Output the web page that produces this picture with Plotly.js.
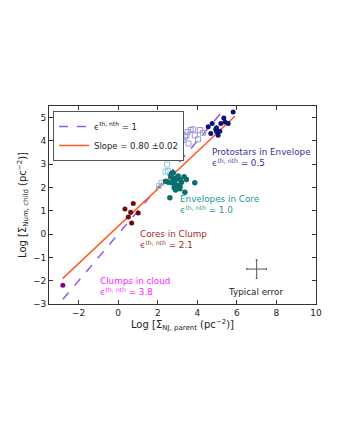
<!DOCTYPE html>
<html>
<head>
<meta charset="utf-8">
<script src="https://cdn.plot.ly/plotly-3.0.1.min.js"></script>
<style>
  html, body { margin: 0; padding: 0; background: #fff; }
  #chart { width: 340px; height: 440px; }
</style>
</head>
<body>
<div id="chart"></div>
<script>
// Protostars in Envelope (filled navy)
const protoX = [5.81, 5.34, 5.19, 5.40, 5.56, 4.75, 4.55, 4.68, 4.93, 4.97, 5.14, 5.05, 4.97];
const protoY = [5.24, 4.98, 4.75, 4.81, 4.75, 4.75, 4.61, 4.32, 4.50, 4.40, 4.42, 4.24, 4.57];

// open squares, upper group (lavender)
const sqUpX = [3.25, 3.38, 3.50, 3.66, 3.79, 3.55, 4.04, 4.13, 4.29, 3.87, 3.45];
const sqUpY = [4.04, 4.18, 4.38, 4.47, 4.50, 3.89, 4.07, 4.47, 4.35, 4.24, 4.24];

// open squares, middle group (light teal)
const sqMidX = [2.70, 2.47, 2.39, 2.52, 2.19, 2.06];
const sqMidY = [3.67, 2.99, 2.68, 2.71, 2.20, 2.06];

// Envelopes in Core (filled teal)
const envX = [2.66, 2.78, 2.86, 2.95, 3.03, 3.12, 3.20, 2.86, 2.70, 2.95, 3.33, 3.45, 3.87, 2.61,
              2.90, 3.03, 2.53, 2.39, 2.78, 2.70, 3.12, 2.83, 3.37, 3.12];
const envY = [2.46, 2.38, 2.27, 2.42, 2.49, 2.35, 2.23, 2.13, 2.20, 2.03, 2.46, 2.35, 2.20, 1.56,
              1.89, 2.09, 2.23, 2.27, 2.63, 2.60, 2.06, 1.99, 1.80, 1.95];

// Cores in Clump (filled dark red)
const coreX = [0.34, 0.76, 0.63, 1.01, 0.51, 0.68];
const coreY = [1.08, 1.31, 0.94, 0.91, 0.74, 0.48];

// Clumps in cloud
const clumpX = [-2.8];
const clumpY = [-2.2];

// reference lines (end points)
const unityX = [-2.8, 5.45];
const unityY = [-2.8, 5.45];
const fitX = [-2.8, 5.9];
const fitY = [-1.9, 5.06];

// typical error bar
const errX = [7.0];
const errY = [-1.5];
const errDx = [0.5];
const errDy = [0.4];

const font = 'DejaVu Sans, sans-serif';

const traces = [
  { x: unityX, y: unityY, mode: 'lines', type: 'scatter', name: 'ϵ<sup>th, nth</sup> = 1',
    line: { color: '#9955ee', width: 1.5, dash: 'dash' } },
  { x: fitX, y: fitY, mode: 'lines', type: 'scatter', name: 'Slope = 0.80 ±0.02',
    line: { color: '#ff5a1f', width: 1.5 } },
  { x: sqUpX, y: sqUpY, mode: 'markers', type: 'scatter', showlegend: false,
    marker: { symbol: 'square-open', size: 5, color: '#9a9ad8', line: { width: 1 } } },
  { x: sqMidX, y: sqMidY, mode: 'markers', type: 'scatter', showlegend: false,
    marker: { symbol: 'square-open', size: 5, color: '#8fcfd0', line: { width: 1 } } },
  { x: protoX, y: protoY, mode: 'markers', type: 'scatter', showlegend: false,
    marker: { size: 5, color: '#10107a' } },
  { x: envX, y: envY, mode: 'markers', type: 'scatter', showlegend: false,
    marker: { size: 5.5, color: '#0a6e6e' } },
  { x: coreX, y: coreY, mode: 'markers', type: 'scatter', showlegend: false,
    marker: { size: 5, color: '#6e0a0a' } },
  { x: clumpX, y: clumpY, mode: 'markers', type: 'scatter', showlegend: false,
    marker: { size: 5, color: '#880088' } },
  { x: errX, y: errY, mode: 'markers', type: 'scatter', showlegend: false,
    marker: { size: 0.1, color: '#555' },
    error_x: { type: 'data', array: errDx, visible: true, color: '#555', thickness: 1, width: 1 },
    error_y: { type: 'data', array: errDy, visible: true, color: '#555', thickness: 1, width: 1 } }
];

function note(x, y, text, color, anchor) {
  return { x: x, y: y, xref: 'x', yref: 'y', text: text, showarrow: false,
           xanchor: anchor || 'left', yanchor: 'top', align: anchor === 'center' ? 'center' : 'left',
           font: { family: font, size: 8.8, color: color } };
}

const layout = {
  width: 340, height: 440,
  margin: { l: 49, r: 24, t: 106, b: 136 },
  paper_bgcolor: '#fff', plot_bgcolor: '#fff',
  font: { family: font, size: 9, color: '#222' },
  showlegend: true,
  legend: { x: 0.015, y: 0.975, xanchor: 'left', yanchor: 'top',
            bgcolor: '#fff', bordercolor: '#555', borderwidth: 1,
            font: { family: font, size: 8.5, color: '#222' }, tracegroupgap: 0,
            itemwidth: 30 },
  xaxis: {
    range: [-3.5, 10], tickvals: [-2, 0, 2, 4, 6, 8, 10],
    ticks: 'inside', ticklen: 4, tickcolor: '#333', showline: true, linecolor: '#333',
    linewidth: 1, mirror: 'ticks', showgrid: false, zeroline: false,
    tickfont: { family: font, size: 9 },
    title: { text: 'Log [Σ<sub>NJ, parent</sub> (pc<sup>−2</sup>)]', standoff: 0,
             font: { family: font, size: 10 } }
  },
  yaxis: {
    range: [-3, 5.5], tickvals: [-3, -2, -1, 0, 1, 2, 3, 4, 5],
    ticks: 'inside', ticklen: 4, tickcolor: '#333', showline: true, linecolor: '#333',
    linewidth: 1, mirror: 'ticks', showgrid: false, zeroline: false,
    tickfont: { family: font, size: 9 },
    title: { text: 'Log [Σ<sub>Num, child</sub> (pc<sup>−2</sup>)]', standoff: 4,
             font: { family: font, size: 10 } }
  },
  annotations: [
    note(4.63, 3.82, 'Protostars in Envelope<br>ϵ<sup>th, nth</sup> = 0.5', '#33339a'),
    note(3.02, 1.82, 'Envelopes in Core<br>ϵ<sup>th, nth</sup> = 1.0', '#1a9696'),
    note(1.00, 0.32, 'Cores in Clump<br>ϵ<sup>th, nth</sup> = 2.1', '#9a2a2a'),
    note(-1.02, -1.70, 'Clumps in cloud<br>ϵ<sup>th, nth</sup> = 3.8', '#ff22ff'),
    note(6.96, -2.20, 'Typical error', '#222', 'center')
  ]
};

Plotly.newPlot('chart', traces, layout, { displayModeBar: false, staticPlot: true });
</script>
</body>
</html>
